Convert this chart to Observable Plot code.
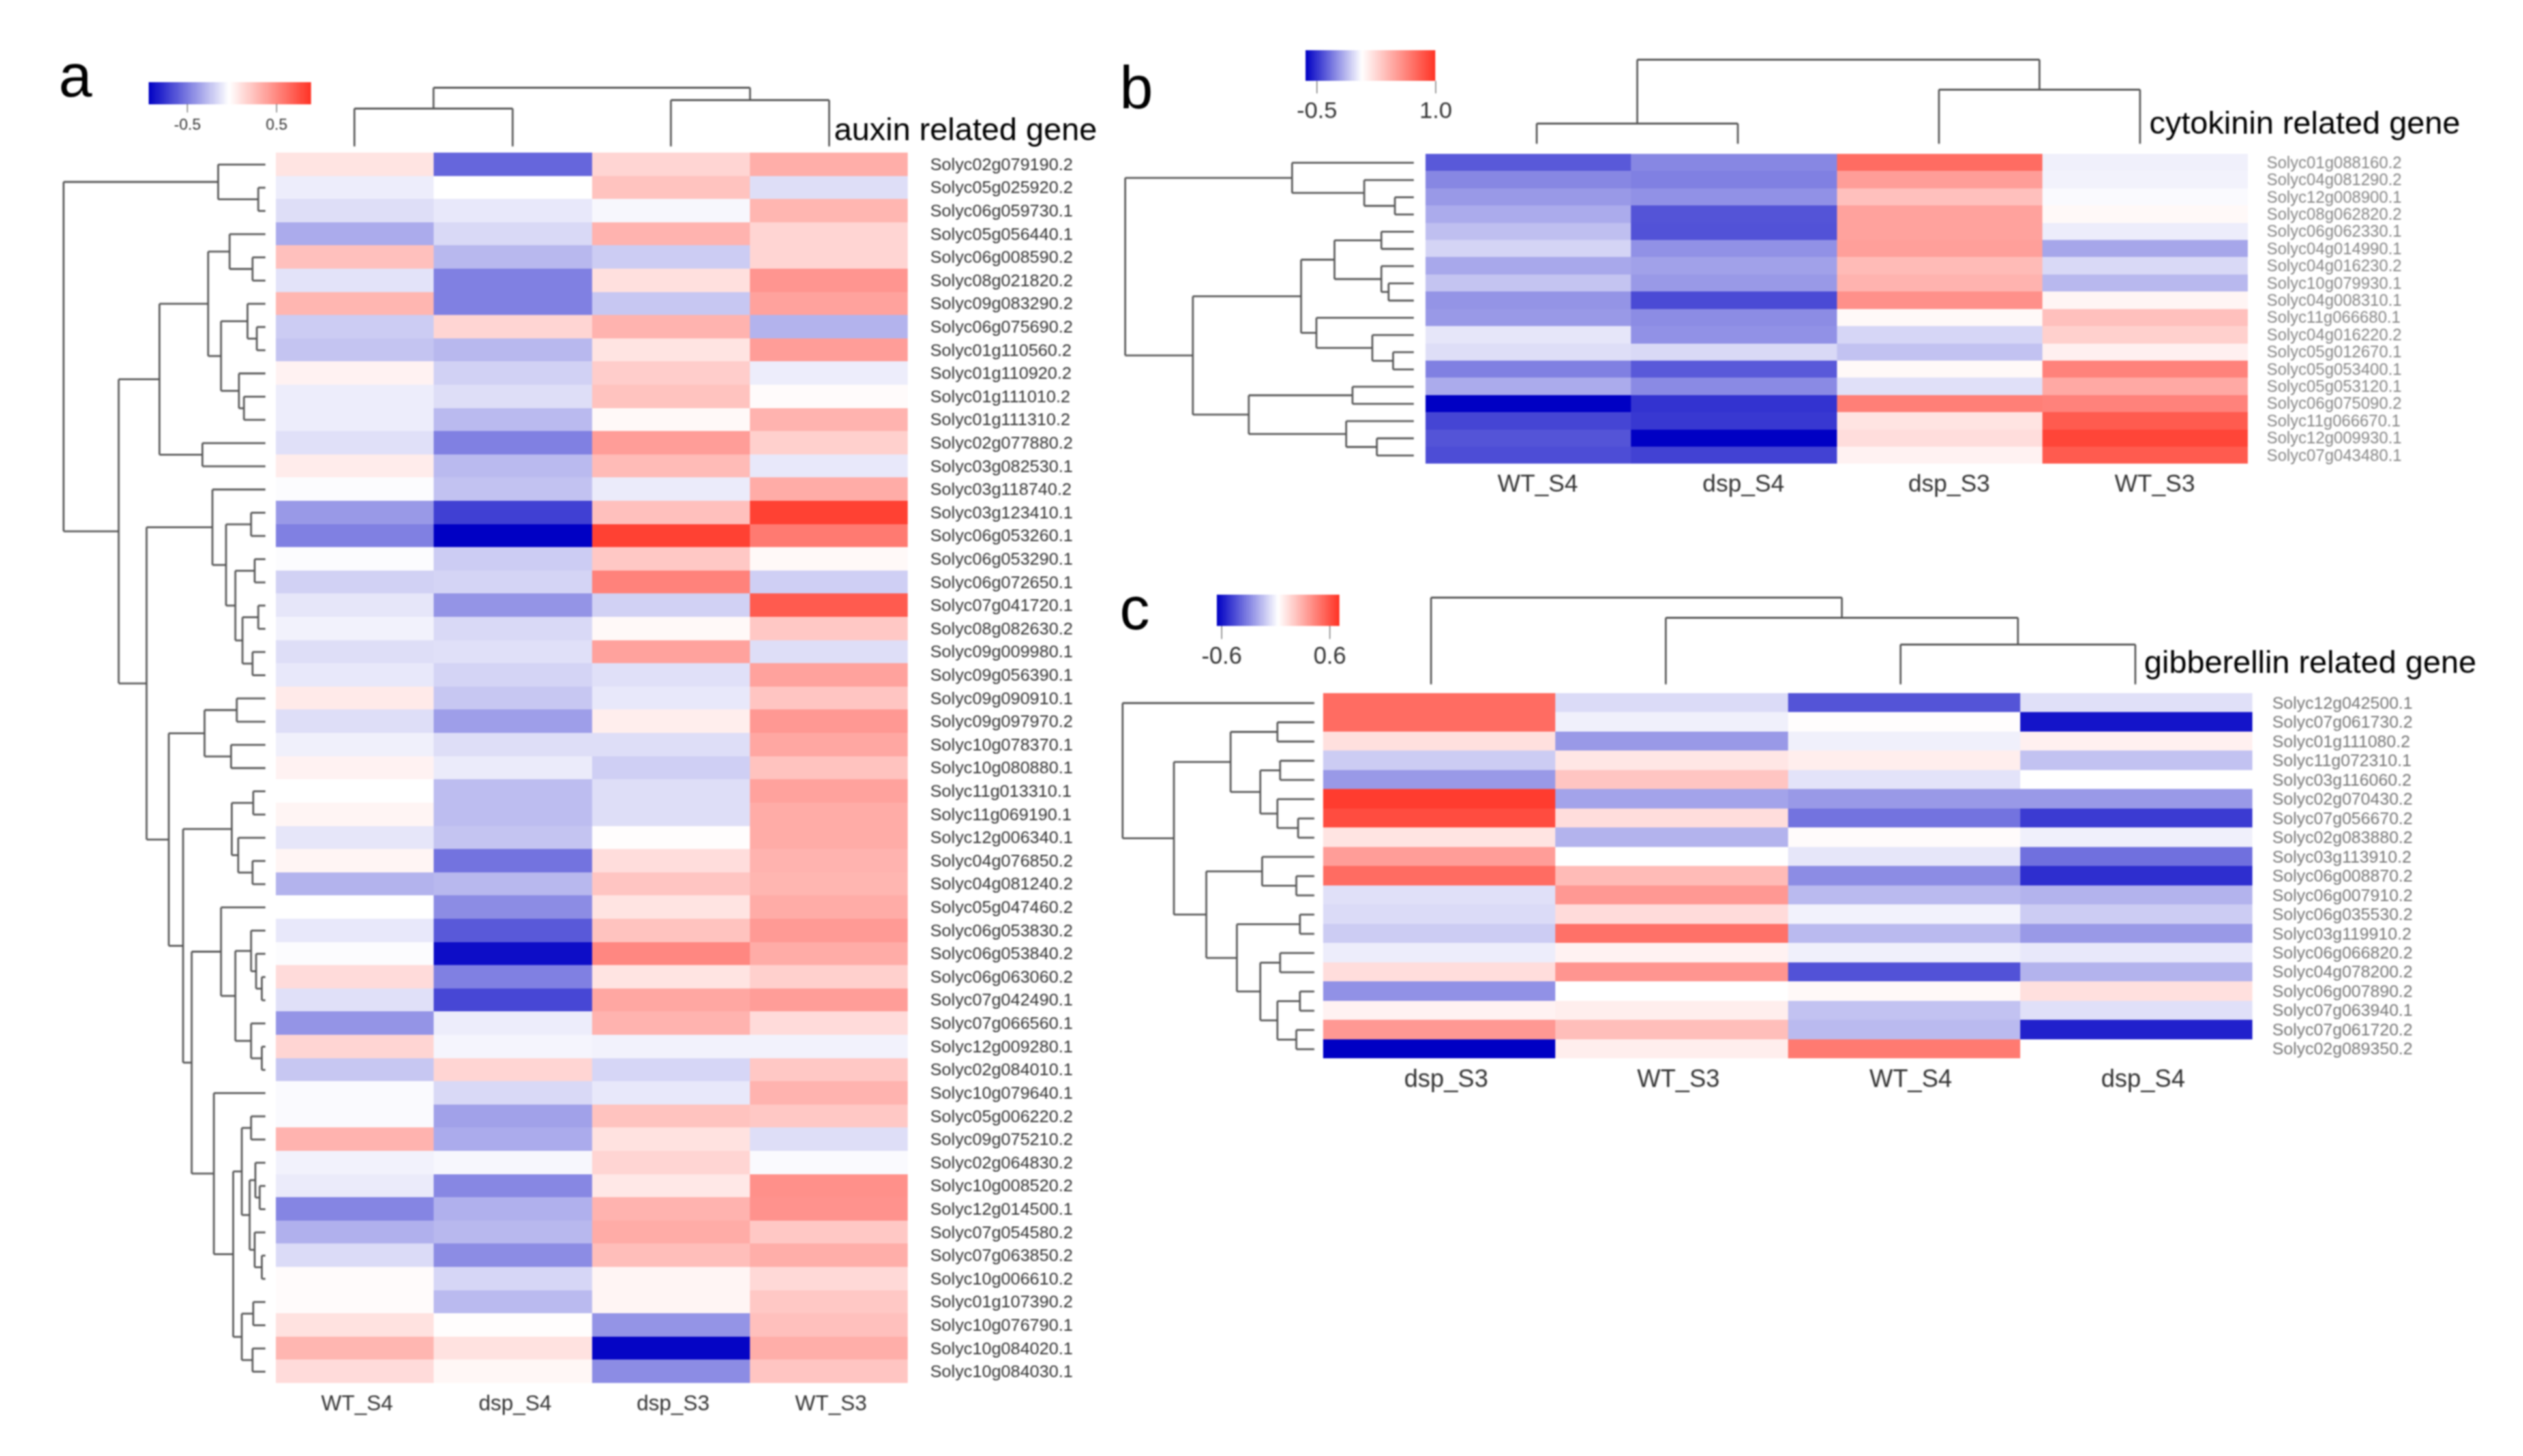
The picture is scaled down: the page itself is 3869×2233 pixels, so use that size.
<!DOCTYPE html>
<html><head><meta charset="utf-8">
<style>
html,body{margin:0;padding:0;background:#fff}
#page{position:relative;width:3869px;height:2233px;overflow:hidden;background:#fff;font-family:"Liberation Sans",Arial,sans-serif;filter:blur(1.1px)}
#page svg{position:absolute;max-width:none;overflow:visible;background:transparent}
.t{position:absolute;white-space:nowrap;color:#000;line-height:1}
</style>
<script src="https://cdn.jsdelivr.net/npm/d3@7"></script>
<script src="https://cdn.jsdelivr.net/npm/@observablehq/plot@0.6"></script>
</head><body><div id="page"></div>
<script>
const aCols=["WT_S4","dsp_S4","dsp_S3","WT_S3"];
const aRows=["Solyc02g079190.2","Solyc05g025920.2","Solyc06g059730.1","Solyc05g056440.1","Solyc06g008590.2","Solyc08g021820.2","Solyc09g083290.2","Solyc06g075690.2","Solyc01g110560.2","Solyc01g110920.2","Solyc01g111010.2","Solyc01g111310.2","Solyc02g077880.2","Solyc03g082530.1","Solyc03g118740.2","Solyc03g123410.1","Solyc06g053260.1","Solyc06g053290.1","Solyc06g072650.1","Solyc07g041720.1","Solyc08g082630.2","Solyc09g009980.1","Solyc09g056390.1","Solyc09g090910.1","Solyc09g097970.2","Solyc10g078370.1","Solyc10g080880.1","Solyc11g013310.1","Solyc11g069190.1","Solyc12g006340.1","Solyc04g076850.2","Solyc04g081240.2","Solyc05g047460.2","Solyc06g053830.2","Solyc06g053840.2","Solyc06g063060.2","Solyc07g042490.1","Solyc07g066560.1","Solyc12g009280.1","Solyc02g084010.1","Solyc10g079640.1","Solyc05g006220.2","Solyc09g075210.2","Solyc02g064830.2","Solyc10g008520.2","Solyc12g014500.1","Solyc07g054580.2","Solyc07g063850.2","Solyc10g006610.2","Solyc01g107390.2","Solyc10g076790.1","Solyc10g084020.1","Solyc10g084030.1"];
const aValues=[[.13,-.6,.2,.35],[-.07,0,.27,-.13],[-.13,-.09,-.03,.32],[-.33,-.15,.33,.2],[.28,-.28,-.2,.2],[-.11,-.5,.15,.45],[.32,-.5,-.22,.4],[-.2,.2,.33,-.3],[-.23,-.28,.13,.42],[.06,-.18,.23,-.07],[-.07,-.13,.27,.02],[-.07,-.27,.03,.33],[-.12,-.5,.42,.22],[.09,-.27,.3,-.09],[-.01,-.24,-.08,.36],[-.4,-.75,.28,.9],[-.5,-1,.9,.55],[-.01,-.2,.25,.03],[-.18,-.17,.52,-.19],[-.1,-.42,-.18,.72],[-.05,-.15,.03,.25],[-.13,-.12,.4,-.13],[-.09,-.17,-.12,.4],[.1,-.22,-.09,.26],[-.13,-.38,.08,.44],[-.06,-.13,-.13,.38],[.06,-.08,-.19,.27],[0,-.26,-.13,.4],[.05,-.26,-.13,.36],[-.1,-.23,.01,.36],[.05,-.55,.16,.33],[-.3,-.28,.26,.32],[0,-.45,.13,.36],[-.09,-.65,.27,.43],[-.01,-.95,.5,.36],[.17,-.5,.13,.22],[-.12,-.72,.38,.42],[-.42,-.07,.33,.17],[.2,-.04,-.05,-.05],[-.22,.2,-.16,.25],[-.02,-.15,-.09,.33],[-.02,-.37,.27,.25],[.33,-.33,.14,-.13],[-.05,-.03,.2,-.02],[-.08,-.47,.11,.47],[-.48,-.31,.33,.46],[-.31,-.28,.36,.25],[-.14,-.45,.29,.35],[.02,-.16,.05,.18],[.02,-.27,.05,.25],[.14,.01,-.42,.28],[.32,.14,-.98,.35],[.17,.04,-.45,.26]];
const aRowTree=[282,[66,0,[10,0,0]],[205,[148,[80,[50,0,[18,0,0]],[62,[25,0,[12,0,0]],[37,0,[30,0,0]]]],[88,0,0]],[166,[74,0,[55,[20,0,0],[42,[15,0,0],[32,[10,0,0],[18,0,0]]]]],[135,[85,[40,0,0],[48,0,0]],[115,[47,[17,0,0],[38,0,[18,0,0]]],[103,[62,0,[42,[20,0,[13,0,[5,0,0]]],[20,0,[5,0,0]]]],[72,0,[45,[33,[20,0,0],[22,[14,0,[8,0,0]],[15,0,[5,0,0]]]],[33,[17,0,0],[18,0,0]]]]]]]]]];
const aColTree=[90,[58,0,0],[71,0,0]];

const bCols=["WT_S4","dsp_S4","dsp_S3","WT_S3"];
const bRows=["Solyc01g088160.2","Solyc04g081290.2","Solyc12g008900.1","Solyc08g062820.2","Solyc06g062330.1","Solyc04g014990.1","Solyc04g016230.2","Solyc10g079930.1","Solyc04g008310.1","Solyc11g066680.1","Solyc04g016220.2","Solyc05g012670.1","Solyc05g053400.1","Solyc05g053120.1","Solyc06g075090.2","Solyc11g066670.1","Solyc12g009930.1","Solyc07g043480.1"];
const bValues=[[-.65,-.47,.6,-.06],[-.47,-.5,.42,-.05],[-.4,-.43,.28,-.02],[-.33,-.67,.4,.03],[-.25,-.68,.4,-.07],[-.17,-.43,.41,-.35],[-.34,-.37,.3,-.15],[-.23,-.4,.33,-.28],[-.42,-.71,.47,.05],[-.4,-.45,.03,.28],[-.1,-.43,-.16,.22],[-.13,-.15,-.24,.07],[-.5,-.65,.03,.52],[-.33,-.46,-.12,.37],[-1,-.8,.53,.52],[-.73,-.78,.13,.72],[-.67,-1,.16,.87],[-.7,-.74,.06,.72]];
const bRowTree=[320,[135,0,[55,0,[21,0,0]]],[245,[125,[88,[36,0,0],[36,0,[28,0,0]]],[108,0,[46,0,[23,0,0]]]],[183,[68,0,0],[75,0,[41,0,0]]]]];
const bColTree=[129,[31,0,0],[83,0,0]];

const cCols=["dsp_S3","WT_S3","WT_S4","dsp_S4"];
const cRows=["Solyc12g042500.1","Solyc07g061730.2","Solyc01g111080.2","Solyc11g072310.1","Solyc03g116060.2","Solyc02g070430.2","Solyc07g056670.2","Solyc02g083880.2","Solyc03g113910.2","Solyc06g008870.2","Solyc06g007910.2","Solyc06g035530.2","Solyc03g119910.2","Solyc06g066820.2","Solyc04g078200.2","Solyc06g007890.2","Solyc07g063940.1","Solyc07g061720.2","Solyc02g089350.2"];
const cValues=[[.6,-.14,-.67,-.12],[.6,-.06,.01,-.92],[.15,-.4,-.06,.07],[-.2,.12,.08,-.24],[-.4,.26,-.11,0],[.93,-.36,-.4,-.4],[.82,.16,-.55,-.77],[.13,-.3,.02,-.06],[.42,0,-.1,-.56],[.6,.3,-.45,-.82],[-.12,.44,-.27,-.3],[-.14,.17,-.05,-.2],[-.2,.58,-.27,-.4],[-.07,.06,-.06,-.09],[.16,.45,-.68,-.3],[-.43,0,.03,.15],[.06,.08,-.24,-.12],[.44,.29,-.27,-.87],[-1,.08,.55,0]];
const cRowTree=[213,0,[156,[93,[41,0,0],[60,[38,0,0],[41,0,[18,0,0]]]],[120,[58,0,[20,0,0]],[86,[16,0,0],[60,[38,0,0],[41,[16,0,0],[20,0,0]]]]]]];
const cColTree=[133,0,[102,0,[61,0,0]]];

const heatDomain=[-1,0,.2,.35,.45,.6,1];
const heatRange=["#0000c4","#ffffff","#ffd5d3","#ffaea9","#ff9590","#ff6c62","#ff3224"];
const legendRange=["#0000c4","#ffffff","#ff3224"];
const font="Liberation Sans";
const textColor="#333";
const lineColor="#555";
const page=document.getElementById("page");

function place(el,left,top){el.style.left=left+"px";el.style.top=top+"px";page.appendChild(el);}
function note(str,left,top,size){const d=document.createElement("div");d.className="t";d.textContent=str;d.style.left=left+"px";d.style.top=top+"px";d.style.fontSize=size+"px";page.appendChild(d);}

function treeLinks(tree){
  const links=[];let next=0;
  (function walk(n){
    if(n===0) return {h:0,p:next++};
    const a=walk(n[1]),b=walk(n[2]);
    links.push({h1:a.h,h2:n[0],p1:a.p,p2:a.p},{h1:b.h,h2:n[0],p1:b.p,p2:b.p},{h1:n[0],h2:n[0],p1:a.p,p2:b.p});
    return {h:n[0],p:(a.p+b.p)/2};
  })(tree);
  return links;
}

function heat(rows,cols,values,o){
  const table=rows.flatMap((row,i)=>cols.map((col,j)=>({row,col,v:values[i][j]})));
  const svg=Plot.plot({
    width:o.w+o.right,height:o.h+o.bottom,marginLeft:0,marginTop:0,marginRight:o.right,marginBottom:o.bottom,
    style:{fontFamily:font,background:"transparent"},
    x:{domain:cols,label:null,round:false,padding:0},
    y:{domain:rows,label:null,round:false,padding:0},
    color:{type:"linear",domain:heatDomain,range:heatRange},
    marks:[
      Plot.cell(table,{x:"col",y:"row",fill:"v",shapeRendering:"crispEdges"}),
      Plot.axisX({anchor:"bottom",tickSize:0,tickPadding:o.colPad,fontSize:o.colFont,color:textColor,dx:o.colDx,label:null}),
      Plot.axisY({anchor:"right",tickSize:0,tickPadding:o.rowPad,fontSize:o.rowFont,color:o.rowColor,label:null})
    ]});
  place(svg,o.left,o.top);
}
function rowTree(tree,n,o){
  const svg=Plot.plot({width:o.w,height:o.h,margin:0,
    x:{domain:[tree[0],0],range:[0,o.w],axis:null},
    y:{domain:[-.5,n-.5],range:[0,o.h],axis:null},
    marks:[Plot.link(treeLinks(tree),{x1:"h1",x2:"h2",y1:"p1",y2:"p2",stroke:lineColor,strokeWidth:2.8})]});
  place(svg,o.left,o.top);
}
function colTree(tree,o){
  const svg=Plot.plot({width:o.w,height:o.h,margin:0,
    x:{domain:[0,3],range:[0,o.w],axis:null},
    y:{domain:[0,tree[0]],range:[o.h,0],axis:null},
    marks:[Plot.link(treeLinks(tree),{y1:"h1",y2:"h2",x1:"p1",x2:"p2",stroke:lineColor,strokeWidth:2.8})]});
  place(svg,o.left,o.top);
}
function legend(o){
  const steps=d3.range(120).map(i=>{const a=o.min+(o.max-o.min)*i/120,b=o.min+(o.max-o.min)*(i+1)/120;return {a,b,v:(a+b)/2};});
  const m=40;
  const svg=Plot.plot({width:o.w+2*m,height:o.h+70,marginLeft:m,marginRight:m,marginTop:0,marginBottom:70,
    style:{fontFamily:font,background:"transparent"},
    x:{domain:[o.min,o.max],label:null},
    y:{domain:[0,1],axis:null},
    color:{type:"linear",domain:[o.min,o.mid,o.max],range:legendRange},
    marks:[
      Plot.rect(steps,{x1:"a",x2:"b",y1:0,y2:1,fill:"v",shapeRendering:"crispEdges"}),
      Plot.axisX({ticks:o.ticks,tickFormat:d=>d.toFixed(1),tickSize:o.tick,tickPadding:o.pad,fontSize:o.font,color:textColor,label:null})
    ]});
  place(svg,o.left-m,o.top);
}

// panel a
heat(aRows,aCols,aValues,{left:423,top:234,w:969,h:1887,right:300,bottom:70,colPad:18,colFont:33,colDx:3,rowPad:34,rowFont:26.4,rowColor:"#333"});
rowTree(aRowTree,aRows.length,{left:96.5,top:234,w:309.5,h:1887});
colTree(aColTree,{left:543,top:134,w:728,h:90});
legend({left:228,top:126,w:249,h:33.5,min:-.93,max:.89,mid:-.03,ticks:[-.5,.5],tick:13,pad:9,font:24});
note("a",90,70,92);
note("auxin related gene",1279,174,49);

// panel b
heat(bRows,bCols,bValues,{left:2185.5,top:235.6,w:1261.5,h:475.4,right:300,bottom:70,colPad:16,colFont:37,colDx:14,rowPad:28,rowFont:25,rowColor:"#888"});
rowTree(bRowTree,bRows.length,{left:1725,top:235.6,w:442.6,h:475.4});
colTree(bColTree,{left:2355.7,top:90.5,w:925.3,h:129});
legend({left:2001.6,top:76.5,w:199.2,h:47.2,min:-.64,max:1,mid:.07,ticks:[-.5,1],tick:19,pad:12,font:36});
note("b",1717,88,92);
note("cytokinin related gene",3296,164,49);

// panel c
heat(cRows,cCols,cValues,{left:2029,top:1062.6,w:1425,h:560.4,right:300,bottom:70,colPad:16,colFont:38,colDx:10,rowPad:30,rowFont:26,rowColor:"#777"});
rowTree(cRowTree,cRows.length,{left:1721,top:1062.6,w:294,h:560.4});
colTree(cColTree,{left:2194,top:916,w:1080,h:133});
legend({left:1866,top:912,w:188,h:48,min:-.65,max:.71,mid:.03,ticks:[-.6,.6],tick:20,pad:12,font:36});
note("c",1717,887,92);
note("gibberellin related gene",3288,991,49);
</script></body></html>
